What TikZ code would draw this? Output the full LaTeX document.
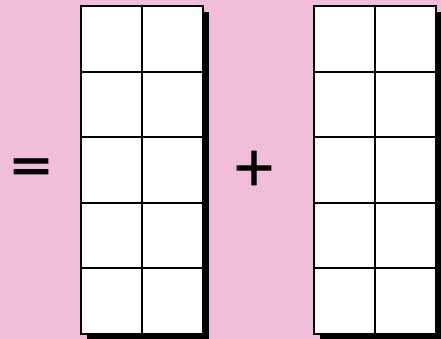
\documentclass[tikz,border=0pt]{standalone}
\usepackage{fontspec}
\newfontfamily\signfont{DejaVu Sans}[BoldFont={DejaVu Sans}, BoldFeatures={FakeBold=1.6}]
\usetikzlibrary{calc, positioning, shadows}
\definecolor{panelpink}{HTML}{F1BEDA}

\begin{document}
\begin{tikzpicture}[x=1pt, y=1pt,
  tenframe/.style={
    draw=black, line width=2pt, fill=white, inner sep=0pt, outer sep=0pt,
    minimum width=122pt, minimum height=328pt,
    drop shadow={shadow xshift=6pt, shadow yshift=-6pt, fill=black, opacity=1}
  },
  gridline/.style={line width=2pt, black},
  sign/.style={font=\signfont\bfseries\fontsize{54}{54}\selectfont, inner sep=0pt}
]

% background panel
\fill[panelpink] (0,0) rectangle (441,339);
\useasboundingbox (0,0) rectangle (441,339);

% the two frames
\node[tenframe] (leftframe) at (142,169) {};
\node[tenframe] (rightframe) at (374.5,169) {};

% cells: one column split, four row splits
\foreach \g in {leftframe, rightframe} {
  \draw[gridline] (\g.north) -- (\g.south);
  \foreach \k in {1,...,4}
    \draw[gridline] ($(\g.north west)!\k/5!(\g.south west)$) --
      ($(\g.north east)!\k/5!(\g.south east)$);
}

% signs
\node[sign] (equals) at (31,168) {=};
\node[sign] (plus) at (254,171) {+};

\end{tikzpicture}
\end{document}
